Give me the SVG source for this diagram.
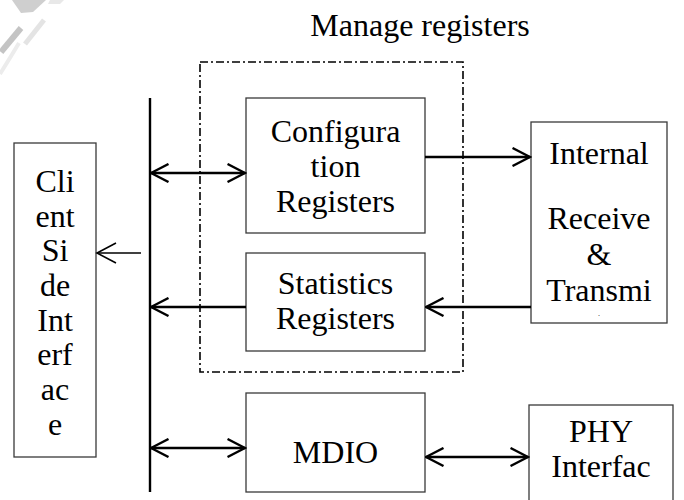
<svg xmlns="http://www.w3.org/2000/svg" width="684" height="500" viewBox="0 0 684 500">
  <style>
    .box { fill: #ffffff; stroke: #3a3a3a; stroke-width: 1.3; }
    .lbl { font-family: "Liberation Serif", "Times New Roman", serif; font-size: 32px; fill: #000; text-anchor: middle; }
    .con { stroke: #000; stroke-width: 2.4; fill: none; }
    .thin { stroke: #000; stroke-width: 1.6; fill: none; }
    .frame { fill: none; stroke: #000; stroke-width: 1.6; stroke-dasharray: 8 3 2 3; }
    .wm { stroke-linecap: butt; fill: none; }
  </style>
  <defs>
    <marker id="arr" viewBox="0 0 20 20" refX="18.5" refY="10" markerWidth="20" markerHeight="20" markerUnits="userSpaceOnUse" orient="auto-start-reverse">
      <path d="M1,1 L18.5,10 L1,19" fill="none" stroke="#000" stroke-width="2.4"/>
    </marker>
    <marker id="arrThin" viewBox="0 0 22 22" refX="20" refY="11" markerWidth="22" markerHeight="22" markerUnits="userSpaceOnUse" orient="auto-start-reverse">
      <path d="M1,1 L20,11 L1,21" fill="none" stroke="#000" stroke-width="1.6"/>
    </marker>
  </defs>
  <rect width="684" height="500" fill="#ffffff"/>

  <g id="watermark">
    <polygon points="12,0 46,0 33,12 21,13" fill="#cfcfcf"/>
    <polygon points="50,0 64,0 60,4 48,4" fill="#e8e8e8"/>
    <line class="wm" x1="44" y1="20" x2="25" y2="44" stroke="#e4e4e4" stroke-width="5"/>
    <line class="wm" x1="21" y1="28" x2="1" y2="52" stroke="#c4c4c4" stroke-width="6"/>
    <path class="wm" d="M19,43 Q10,58 0,74" stroke="#ececec" stroke-width="4"/>
  </g>

  <g id="manage-registers">
    <rect class="frame" x="200" y="62" width="263" height="310"/>
    <text class="lbl" x="420" y="36">Manage registers</text>
  </g>

  <g id="client-side-interface">
    <rect class="box" x="14" y="143" width="82" height="314"/>
    <text class="lbl" x="55" y="192">Cli</text>
    <text class="lbl" x="55" y="227">ent</text>
    <text class="lbl" x="55" y="261">Si</text>
    <text class="lbl" x="55" y="296">de</text>
    <text class="lbl" x="55" y="331">Int</text>
    <text class="lbl" x="55" y="365">erf</text>
    <text class="lbl" x="55" y="400">ac</text>
    <text class="lbl" x="55" y="435">e</text>
  </g>

  <g id="configuration-registers">
    <rect class="box" x="246" y="98" width="179" height="135"/>
    <text class="lbl" x="335.5" y="142">Configura</text>
    <text class="lbl" x="335.5" y="177">tion</text>
    <text class="lbl" x="335.5" y="212">Registers</text>
  </g>

  <g id="statistics-registers">
    <rect class="box" x="246" y="253" width="179" height="98"/>
    <text class="lbl" x="335.5" y="294">Statistics</text>
    <text class="lbl" x="335.5" y="329">Registers</text>
  </g>

  <g id="internal-receive-transmit">
    <rect class="box" x="531" y="122" width="136" height="201"/>
    <text class="lbl" x="599" y="164">Internal</text>
    <text class="lbl" x="599" y="229">Receive</text>
    <text class="lbl" x="599" y="265">&amp;</text>
    <text class="lbl" x="599" y="301">Transmi</text>
    <text class="lbl" x="599" y="316" style="font-size:8px">.</text>
  </g>

  <g id="mdio">
    <rect class="box" x="246" y="393" width="179" height="99"/>
    <text class="lbl" x="335.5" y="463">MDIO</text>
  </g>

  <g id="phy-interface">
    <rect class="box" x="529" y="405" width="144" height="110"/>
    <text class="lbl" x="601" y="442">PHY</text>
    <text class="lbl" x="601" y="477">Interfac</text>
  </g>

  <g id="connectors">
    <line class="con" x1="150" y1="98" x2="150" y2="492"/>
    <line class="con" x1="151" y1="173" x2="245" y2="173" marker-start="url(#arr)" marker-end="url(#arr)"/>
    <line class="con" x1="425" y1="157" x2="530" y2="157" marker-end="url(#arr)"/>
    <line class="con" x1="531" y1="307" x2="426" y2="307" marker-end="url(#arr)"/>
    <line class="con" x1="246" y1="307" x2="151" y2="307" marker-end="url(#arr)"/>
    <line class="thin" x1="141" y1="253" x2="97" y2="253" marker-end="url(#arrThin)"/>
    <line class="con" x1="151" y1="448" x2="245" y2="448" marker-start="url(#arr)" marker-end="url(#arr)"/>
    <line class="con" x1="426" y1="457" x2="528" y2="457" marker-start="url(#arr)" marker-end="url(#arr)"/>
  </g>
</svg>
